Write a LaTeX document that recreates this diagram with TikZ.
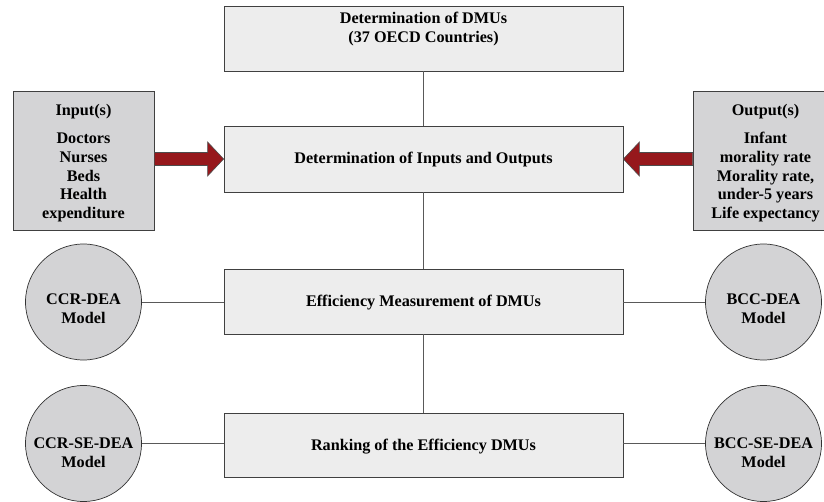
\documentclass[tikz,border=0pt]{standalone}
\usepackage{fontspec}
\setmainfont{Liberation Serif}
\begin{document}
\begin{tikzpicture}[x=1pt,y=-1pt,
  txt/.style={font=\fontsize{16.2}{18.7}\selectfont\bfseries, align=center, text=black, inner sep=0pt},
  mainbox/.style={draw=black!75, fill=black!7, line width=0.8pt, minimum width=399pt, inner sep=0pt},
  sidebox/.style={draw=black!75, fill=sidefill, line width=0.8pt, minimum width=141pt, minimum height=139pt, inner sep=0pt},
  model/.style={circle, draw=black!80, fill=circfill, line width=0.7pt, minimum size=116pt, inner sep=0pt},
  link/.style={draw=black!65, line width=0.9pt},
  bigarrow/.style={fill=arrowred, draw=black!70, line width=0.6pt}
]
\definecolor{sidefill}{RGB}{212,212,214}
\definecolor{circfill}{RGB}{211,211,213}
\definecolor{arrowred}{RGB}{150,24,28}
\useasboundingbox (0,0) rectangle (824,502);

% main boxes
\node[mainbox, minimum height=65pt] (dmu) at (423.5,38.5) {};
\node[txt] (dmut) at (423.5,29) {Determination of DMUs\\(37 OECD Countries)};
\node[mainbox, minimum height=66pt] (io) at (423.5,159) {};
\node[txt] (iot) at (423.5,160) {Determination of Inputs and Outputs};
\node[mainbox, minimum height=65pt] (eff) at (423.5,301.5) {};
\node[txt] (efft) at (423.5,302.5) {Efficiency Measurement of DMUs};
\node[mainbox, minimum height=64pt] (rank) at (423.5,445) {};
\node[txt] (rankt) at (423.5,446.5) {Ranking of the Efficiency DMUs};

% side boxes
\node[sidebox] (in) at (83.5,160.5) {};
\node[txt] (intx) at (83.5,163) {Input(s)\\[10pt]Doctors\\Nurses\\Beds\\Health\\expenditure};
\node[sidebox] (out) at (763.5,160.5) {};
\node[txt] (outtx) at (765.5,163) {Output(s)\\[10pt]Infant\\morality rate\\Morality rate,\\under-5 years\\Life expectancy};

% model circles
\node[model] (ccr) at (83.5,302) {};
\node[txt] (ccrt) at (83.5,308.5) {CCR-DEA\\Model};
\node[model] (bcc) at (763.5,302) {};
\node[txt] (bcct) at (763.5,308.5) {BCC-DEA\\Model};
\node[model] (ccrse) at (83.5,443.5) {};
\node[txt] (ccrset) at (83.5,453) {CCR-SE-DEA\\Model};
\node[model] (bccse) at (763.5,443.5) {};
\node[txt] (bccset) at (763.5,453) {BCC-SE-DEA\\Model};

\draw[link] (dmu.south) -- (io.north);
\draw[link] (io.south) -- (eff.north);
\draw[link] (eff.south) -- (rank.north);
\draw[link] (ccr.east) -- (ccr.east -| eff.west);
\draw[link] (bcc.west) -- (bcc.west -| eff.east);
\draw[link] (ccrse.east) -- (ccrse.east -| rank.west);
\draw[link] (bccse.west) -- (bccse.west -| rank.east);

% big arrows
\coordinate (la) at (in.east |- io.west);
\coordinate (ra) at (out.west |- io.east);
\draw[bigarrow] ([yshift=-6.5pt]la) -- ([xshift=-16pt,yshift=-6.5pt]io.west) -- ([xshift=-16pt,yshift=-17pt]io.west) -- (io.west) -- ([xshift=-16pt,yshift=17pt]io.west) -- ([xshift=-16pt,yshift=6.5pt]io.west) -- ([yshift=6.5pt]la) -- cycle;
\draw[bigarrow] ([yshift=-6.5pt]ra) -- ([xshift=16pt,yshift=-6.5pt]io.east) -- ([xshift=16pt,yshift=-17pt]io.east) -- (io.east) -- ([xshift=16pt,yshift=17pt]io.east) -- ([xshift=16pt,yshift=6.5pt]io.east) -- ([yshift=6.5pt]ra) -- cycle;
\end{tikzpicture}
\end{document}
